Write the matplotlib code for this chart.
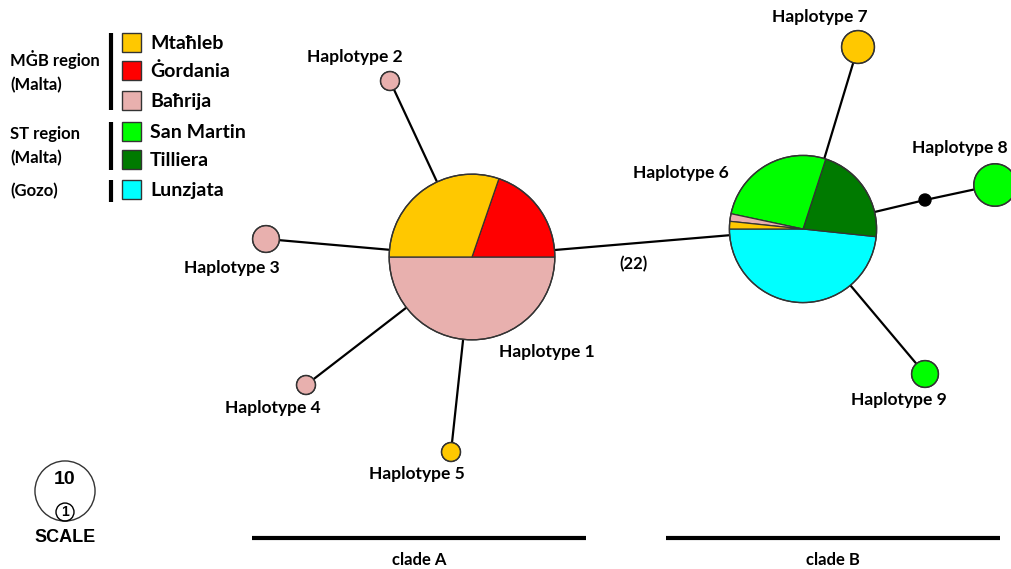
import matplotlib.pyplot as plt
from matplotlib.patches import Wedge, Circle, Rectangle

# populations (legend order) and their colours
regions = ["Mtaħleb", "Ġordania", "Baħrija", "San Martin", "Tilliera", "Lunzjata"]
region_colors = ["#FFC800", "#FF0000", "#E8B0AE", "#00FF00", "#007A00", "#00FFFF"]

haplotypes = ["Haplotype 1", "Haplotype 2", "Haplotype 3", "Haplotype 4", "Haplotype 5",
              "Haplotype 6", "Haplotype 7", "Haplotype 8", "Haplotype 9"]
# individuals per population for each haplotype (order as in `regions`)
counts = [
    [23, 15, 38, 0, 0, 0],   # H1
    [0, 0, 1, 0, 0, 0],      # H2
    [0, 0, 2, 0, 0, 0],      # H3
    [0, 0, 1, 0, 0, 0],      # H4
    [1, 0, 0, 0, 0, 0],      # H5
    [1, 0, 1, 16, 13, 29],   # H6
    [3, 0, 0, 0, 0, 0],      # H7
    [0, 0, 0, 5, 0, 0],      # H8
    [0, 0, 0, 2, 0, 0],      # H9
]
# slice order going anticlockwise from 9 o'clock
slice_order = {0: [2, 1, 0], 5: [5, 4, 3, 2, 0]}

edges = [(0, 1), (0, 2), (0, 3), (0, 4), (0, 5), (5, 6), (5, "mv"), ("mv", 7), (5, 8)]
edge_label = "(22)"

# layout (pixel space)
pos = {0: (472, 257), 1: (390, 81), 2: (266, 239), 3: (306, 385), 4: (451, 452),
       5: (803, 229), 6: (858, 47), 7: (995, 185), 8: (925, 374), "mv": (925, 200)}
label_pos = [(547, 352), (355, 57), (232, 268), (273, 408), (417, 474),
             (681, 173), (820, 17), (960, 148), (899, 400)]
K = 9.5  # radius of a circle for one individual (area proportional)

FONT = "Lato"

fig = plt.figure(figsize=(10.11, 5.69), dpi=100)
ax = fig.add_axes([0, 0, 1, 1])
ax.set_xlim(0, 1011)
ax.set_ylim(569, 0)
ax.axis("off")

# network lines
for a, b in edges:
    (x1, y1), (x2, y2) = pos[a], pos[b]
    ax.plot([x1, x2], [y1, y2], color="black", lw=1.6, zorder=1, solid_capstyle="butt")
ax.text(633, 264, edge_label, fontsize=12, fontweight="bold", family=FONT,
        ha="center", va="center")

# nodes
for i, name in enumerate(haplotypes):
    n = sum(counts[i])
    r = K * n ** 0.5
    cx, cy = pos[i]
    order = slice_order.get(i, [j for j in range(len(regions)) if counts[i][j]])
    start = 180.0
    for j in order:
        span = 360.0 * counts[i][j] / n
        # y axis is inverted, so visual anticlockwise angles are negated
        w = Wedge((cx, cy), r, -(start + span), -start, facecolor=region_colors[j],
                  edgecolor="#333333", lw=0.9, zorder=2)
        ax.add_patch(w)
        start += span
    ax.add_patch(Circle((cx, cy), r, fill=False, edgecolor="#333333", lw=1.0, zorder=3))
    lx, ly = label_pos[i]
    ax.text(lx, ly, name, fontsize=12.5, fontweight="bold", family=FONT,
            ha="center", va="center")

# median vector
ax.add_patch(Circle(pos["mv"], 6, color="black", zorder=3))

# legend
box_y = [33, 61, 91, 122, 150, 180]
for j, reg in enumerate(regions):
    ax.add_patch(Rectangle((122, box_y[j]), 19, 19, facecolor=region_colors[j],
                           edgecolor="#333333", lw=1.0))
    ax.text(150, box_y[j] + 10, reg, fontsize=14, fontweight="bold", family=FONT,
            va="center", ha="left")
groups = [("MĠB region\n(Malta)", 33, 110), ("ST region\n(Malta)", 122, 170),
          ("(Gozo)", 180, 202)]
for txt, y0, y1 in groups:
    ax.plot([111, 111], [y0, y1], color="black", lw=3, solid_capstyle="butt")
    ax.text(10, (y0 + y1) / 2, txt, fontsize=12, fontweight="bold", family=FONT,
            va="center", ha="left", linespacing=1.65)

# scale
R10 = K * 10 ** 0.5
ax.add_patch(Circle((65, 491), R10, fill=False, edgecolor="#333333", lw=1.0))
ax.add_patch(Circle((65, 491 + R10 - 9), 9, fill=False, edgecolor="black", lw=1.0))
ax.text(65, 479, "10", fontsize=14, fontweight="bold", family="Liberation Sans",
        ha="center", va="center")
ax.text(65, 512.5, "1", fontsize=10, fontweight="bold", family="Liberation Sans",
        ha="center", va="center")
ax.text(65, 538, "SCALE", fontsize=13, fontweight="bold", family="Liberation Sans",
        ha="center", va="center")

# clades
for (x0, x1), lab in [((252, 586), "clade A"), ((666, 1000), "clade B")]:
    ax.plot([x0, x1], [538, 538], color="black", lw=3, solid_capstyle="butt")
    ax.text((x0 + x1) / 2, 560, lab, fontsize=12, fontweight="bold", family=FONT,
            ha="center", va="center")

fig.savefig("out.png", dpi=100)
